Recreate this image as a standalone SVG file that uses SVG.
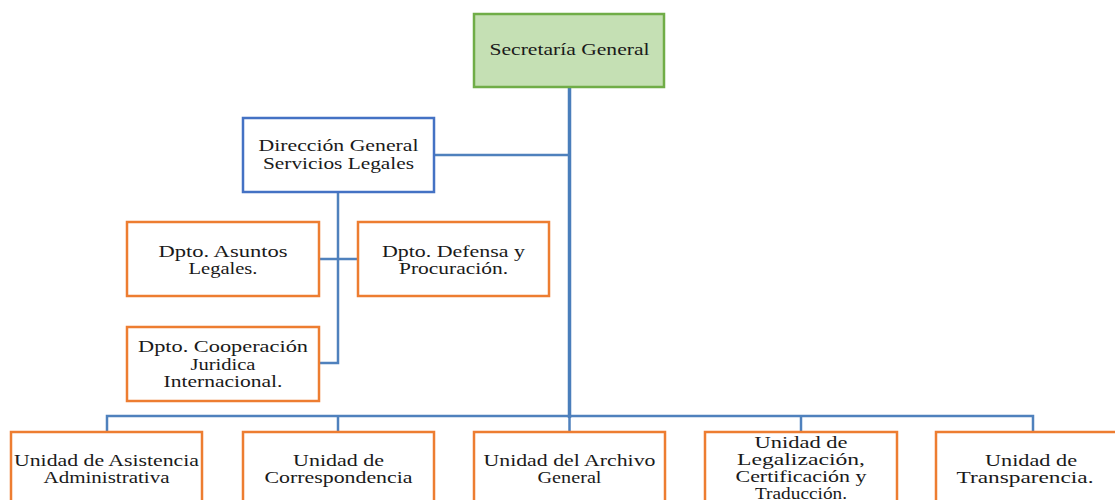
<svg xmlns="http://www.w3.org/2000/svg" width="1115" height="500" viewBox="0 0 1115 500">
  <style>
    .box-green { fill: #c5e0b4; stroke: #70ad47; stroke-width: 2.5; }
    .box-blue { fill: #ffffff; stroke: #4472c4; stroke-width: 2.5; }
    .box-orange { fill: #ffffff; stroke: #ed7d31; stroke-width: 2.5; }
    .link { fill: none; stroke: #4f81bd; stroke-width: 2.5; }
    .trunk { fill: none; stroke: #4a7ebb; stroke-width: 3.5; }
    text { font-family: "Liberation Serif", "Times New Roman", serif; font-size: 17px; fill: #1a1a1a; text-anchor: middle; }
  </style>
  <rect width="1115" height="500" fill="#ffffff"/>

  <!-- connectors -->
  <g id="connectors">
    <line class="trunk" x1="569.5" y1="87" x2="569.5" y2="418"/>
    <line class="link" x1="434" y1="155" x2="569.5" y2="155"/>
    <polyline class="link" points="338,192 338,363 319,363"/>
    <line class="link" x1="319" y1="259" x2="358" y2="259"/>
    <polyline class="link" points="107,432 107,416 1033,416 1033,432"/>
    <line class="link" x1="338" y1="416" x2="338" y2="432"/>
    <line class="link" x1="569.5" y1="416" x2="569.5" y2="432"/>
    <line class="link" x1="801" y1="416" x2="801" y2="432"/>
  </g>

  <g id="secretaria-general">
    <rect class="box-green" x="474" y="14" width="190" height="73"/>
    <text x="569.5" y="55" textLength="160" lengthAdjust="spacingAndGlyphs">Secretaría General</text>
  </g>

  <g id="direccion-general">
    <rect class="box-blue" x="243" y="118" width="191" height="74"/>
    <text x="338.5" y="151" textLength="160" lengthAdjust="spacingAndGlyphs">Dirección  General</text>
    <text x="338.5" y="169" textLength="151" lengthAdjust="spacingAndGlyphs">Servicios Legales</text>
  </g>

  <g id="dpto-asuntos-legales">
    <rect class="box-orange" x="127" y="222" width="192" height="74"/>
    <text x="223" y="257" textLength="129" lengthAdjust="spacingAndGlyphs">Dpto. Asuntos</text>
    <text x="223" y="274" textLength="69" lengthAdjust="spacingAndGlyphs">Legales.</text>
  </g>

  <g id="dpto-defensa">
    <rect class="box-orange" x="358" y="222" width="191" height="74"/>
    <text x="453.5" y="257" textLength="143" lengthAdjust="spacingAndGlyphs">Dpto. Defensa y</text>
    <text x="453.5" y="274" textLength="109" lengthAdjust="spacingAndGlyphs">Procuración.</text>
  </g>

  <g id="dpto-cooperacion">
    <rect class="box-orange" x="127" y="327" width="192" height="74"/>
    <text x="223" y="352" textLength="170" lengthAdjust="spacingAndGlyphs">Dpto. Cooperación</text>
    <text x="223" y="370" textLength="65" lengthAdjust="spacingAndGlyphs">Juridica</text>
    <text x="223" y="387" textLength="119" lengthAdjust="spacingAndGlyphs">Internacional.</text>
  </g>

  <g id="unidad-asistencia">
    <rect class="box-orange" x="11" y="432" width="191" height="80"/>
    <text x="106.5" y="466" textLength="185" lengthAdjust="spacingAndGlyphs">Unidad de Asistencia</text>
    <text x="106.5" y="483" textLength="126" lengthAdjust="spacingAndGlyphs">Administrativa</text>
  </g>

  <g id="unidad-correspondencia">
    <rect class="box-orange" x="243" y="432" width="191" height="80"/>
    <text x="338.5" y="466" textLength="91" lengthAdjust="spacingAndGlyphs">Unidad de</text>
    <text x="338.5" y="483" textLength="148" lengthAdjust="spacingAndGlyphs">Correspondencia</text>
  </g>

  <g id="unidad-archivo">
    <rect class="box-orange" x="474" y="432" width="191" height="80"/>
    <text x="569.5" y="466" textLength="172" lengthAdjust="spacingAndGlyphs">Unidad del Archivo</text>
    <text x="569.5" y="483" textLength="64" lengthAdjust="spacingAndGlyphs">General</text>
  </g>

  <g id="unidad-legalizacion">
    <rect class="box-orange" x="705" y="432" width="192" height="80"/>
    <text x="801" y="448" textLength="93" lengthAdjust="spacingAndGlyphs">Unidad de</text>
    <text x="801" y="465" textLength="128" lengthAdjust="spacingAndGlyphs">Legalización,</text>
    <text x="801" y="482" textLength="131" lengthAdjust="spacingAndGlyphs">Certificación  y</text>
    <text x="801" y="499" textLength="92" lengthAdjust="spacingAndGlyphs">Traducción.</text>
  </g>

  <g id="unidad-transparencia">
    <rect class="box-orange" x="936" y="432" width="192" height="80"/>
    <text x="1031" y="466" textLength="92" lengthAdjust="spacingAndGlyphs">Unidad de</text>
    <text x="1025" y="483" textLength="137" lengthAdjust="spacingAndGlyphs">Transparencia.</text>
  </g>
</svg>
